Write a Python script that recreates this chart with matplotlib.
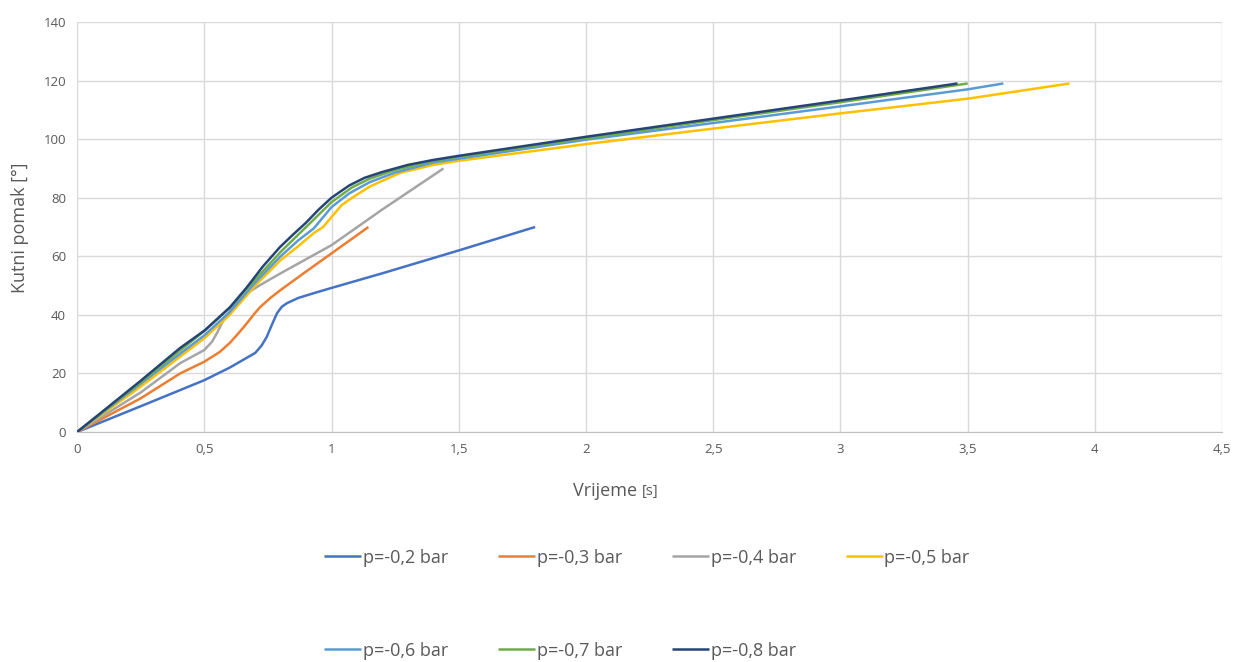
import matplotlib
matplotlib.use("Agg")
import matplotlib.pyplot as plt

plt.rcParams['font.family'] = ['Open Sans', 'DejaVu Sans']

labels = ["p=-0,2 bar", "p=-0,3 bar", "p=-0,4 bar", "p=-0,5 bar",
          "p=-0,6 bar", "p=-0,7 bar", "p=-0,8 bar"]
colors = ["#4472C4", "#ED7D31", "#A5A5A5", "#FFC000", "#5B9BD5", "#70AD47", "#264478"]

t_02 = [0, 0.25, 0.5, 0.6, 0.66, 0.7, 0.725, 0.745, 0.765, 0.786, 0.805, 0.825, 0.87, 0.93, 1.0, 1.2, 1.5, 1.8]
a_02 = [0, 8.8, 17.7, 22, 25, 27, 29.5, 32.4, 36.5, 40.6, 42.8, 44, 45.8, 47.4, 49.2, 54.2, 62, 70]

t_03 = [0, 0.25, 0.405, 0.5, 0.56, 0.6, 0.635, 0.668, 0.695, 0.72, 0.76, 0.8, 0.9, 1.0, 1.145]
a_03 = [0, 11.5, 20, 24, 27.3, 30.4, 33.8, 37.2, 40.2, 42.7, 45.8, 48.5, 54.8, 61, 70]

t_04 = [0, 0.25, 0.405, 0.5, 0.53, 0.55, 0.574, 0.62, 0.668, 0.72, 0.8, 0.9, 1.0, 1.2, 1.44]
a_04 = [0, 13.5, 23.5, 28, 30.8, 33.8, 38, 43.5, 47.4, 50.2, 54.2, 59, 63.8, 76, 90]

t_05 = [0, 0.25, 0.5, 0.6, 0.7, 0.8, 0.87, 0.93, 0.967, 1.0, 1.04, 1.085, 1.15, 1.27, 1.4, 1.5, 2, 2.5, 3, 3.5, 3.9]
a_05 = [0, 15.5, 32, 40, 50, 58.7, 63.5, 67.9, 70, 73.4, 77.5, 80.2, 83.8, 88.5, 91.2, 92.6, 98.3, 103.6, 108.8, 113.8, 119]

t_06 = [0, 0.25, 0.5, 0.6, 0.7, 0.8, 0.87, 0.93, 1.0, 1.07, 1.15, 1.25, 1.4, 1.5, 2, 2.5, 3, 3.5, 3.64]
a_06 = [0, 16.5, 33, 41, 51, 60, 65.5, 69.5, 76.8, 81.5, 85.3, 88.6, 92, 93.3, 99.8, 105.5, 111.2, 117, 119]

t_07 = [0, 0.25, 0.5, 0.6, 0.7, 0.8, 0.9, 1.0, 1.08, 1.15, 1.25, 1.4, 1.5, 2, 2.5, 3, 3.5]
a_07 = [0, 17, 34.5, 42.5, 52, 61.5, 70, 78.5, 83.5, 86.5, 89.5, 92.6, 94, 100.3, 106.5, 112.6, 119]

t_08 = [0, 0.25, 0.405, 0.503, 0.6, 0.668, 0.73, 0.798, 0.85, 0.9, 0.95, 1.0, 1.07, 1.13, 1.2, 1.3, 1.4, 1.5, 2, 2.5, 3, 3.46]
a_08 = [0, 17.5, 28.7, 34.8, 42.5, 49.5, 56.5, 63.2, 67.5, 71.5, 76, 80, 84.2, 86.8, 88.8, 91.2, 92.9, 94.3, 100.8, 107, 113.2, 119]

series_t = [t_02, t_03, t_04, t_05, t_06, t_07, t_08]
series_a = [a_02, a_03, a_04, a_05, a_06, a_07, a_08]

x_ticks = [0, 0.5, 1, 1.5, 2, 2.5, 3, 3.5, 4, 4.5]
x_tick_labels = ["0", "0,5", "1", "1,5", "2", "2,5", "3", "3,5", "4", "4,5"]
y_ticks = [0, 20, 40, 60, 80, 100, 120, 140]

fig = plt.figure(figsize=(12.37, 6.62), dpi=100)
ax = fig.add_axes([0.0623, 0.3474, 0.9257, 0.6194])

handles = []
for t, a, c, lab in zip(series_t, series_a, colors, labels):
    h, = ax.plot(t, a, color=c, lw=1.8, label=lab, solid_joinstyle='round', solid_capstyle='butt')
    handles.append(h)

ax.set_xlim(0, 4.5)
ax.set_ylim(0, 140)
ax.set_xticks(x_ticks)
ax.set_xticklabels(x_tick_labels)
ax.set_yticks(y_ticks)
ax.grid(True, color="#d9d9d9", lw=1)
ax.set_axisbelow(True)
for s in ["top", "right", "left"]:
    ax.spines[s].set_visible(False)
ax.spines["bottom"].set_color("#bfbfbf")
ax.tick_params(length=0, colors="#595959", labelsize=9.5, pad=8)

fig.text(0.016, 0.6556, "Kutni pomak [°]", rotation=90, ha="center", va="center",
         fontsize=13, color="#595959")
fig.text(0.5185, 0.259, "Vrijeme ", ha="right", va="center", fontsize=13, color="#595959")
fig.text(0.5185, 0.257, "[s]", ha="left", va="center", fontsize=10.5, color="#595959")

order = [0, 4, 1, 5, 2, 6, 3]
leg = fig.legend([handles[i] for i in order], [labels[i] for i in order],
                 loc="center", bbox_to_anchor=(0.523, 0.0874), ncol=4, frameon=False,
                 fontsize=13, handlelength=2.05, handletextpad=0.1, columnspacing=2.75,
                 labelspacing=4.15, labelcolor="#595959", borderaxespad=0, borderpad=0)

fig.savefig("out.png", dpi=100)
